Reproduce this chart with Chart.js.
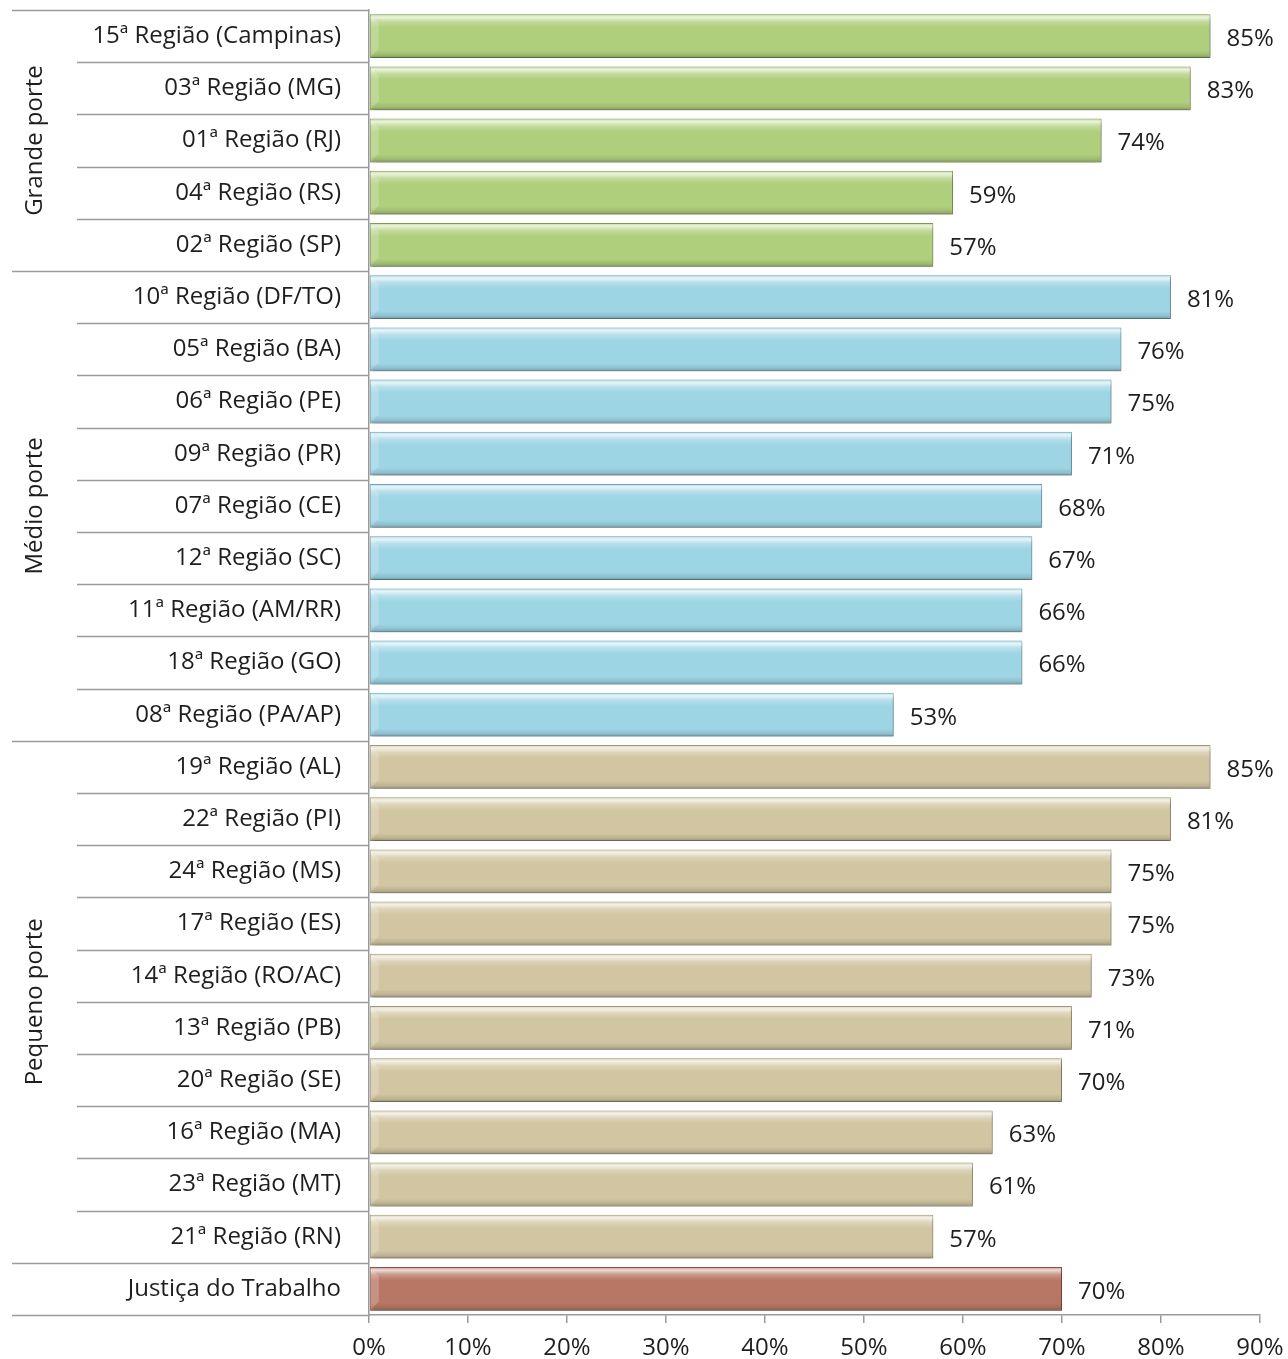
<!DOCTYPE html>
<html>
<head>
<meta charset="utf-8">
<script src="https://cdn.jsdelivr.net/npm/chart.js@4"></script>
<style>
  html, body { margin: 0; padding: 0; background: #fff; }
  #wrap { width: 1288px; height: 1359px; }
</style>
</head>
<body>
<div id="wrap"><canvas id="myChart" width="1288" height="1359"></canvas></div>
<script>
const regions = [
  '15ª Região (Campinas)', '03ª Região (MG)', '01ª Região (RJ)', '04ª Região (RS)', '02ª Região (SP)',
  '10ª Região (DF/TO)', '05ª Região (BA)', '06ª Região (PE)', '09ª Região (PR)', '07ª Região (CE)',
  '12ª Região (SC)', '11ª Região (AM/RR)', '18ª Região (GO)', '08ª Região (PA/AP)',
  '19ª Região (AL)', '22ª Região (PI)', '24ª Região (MS)', '17ª Região (ES)', '14ª Região (RO/AC)',
  '13ª Região (PB)', '20ª Região (SE)', '16ª Região (MA)', '23ª Região (MT)', '21ª Região (RN)',
  'Justiça do Trabalho'
];
const values = [85, 83, 74, 59, 57, 81, 76, 75, 71, 68, 67, 66, 66, 53, 85, 81, 75, 75, 73, 71, 70, 63, 61, 57, 70];
const groupNames = ['Grande porte', 'Médio porte', 'Pequeno porte', ''];
const groupSizes = [5, 9, 10, 1];
const xTicks = [0, 10, 20, 30, 40, 50, 60, 70, 80, 90];

const groupFill = ['#b0cf7c', '#9ed5e5', '#d2c6a2', '#b87764'];
const groupEdge = ['#7f9a52', '#6aa3b3', '#a39874', '#8a5444'];

const groupOf = [];
groupSizes.forEach((n, g) => { for (let i = 0; i < n; i++) groupOf.push(g); });

const FONT = '"Open Sans", sans-serif';
const FSIZE = 24;
const LINE = '#9a9a9a';

const barStyle = {
  id: 'barStyle',
  beforeDatasetDraw(chart) {
    const ctx = chart.ctx;
    ctx.save();
    ctx.shadowColor = 'rgba(0,0,0,0.35)';
    ctx.shadowOffsetY = 3;
    ctx.shadowOffsetX = 1;
    ctx.shadowBlur = 4;
  },
  afterDatasetDraw(chart) {
    const ctx = chart.ctx;
    ctx.restore();
    const meta = chart.getDatasetMeta(0);
    meta.data.forEach((bar) => {
      const { x, y, base, height } = bar.getProps(['x', 'y', 'base', 'height'], true);
      const top = y - height / 2;
      const g = ctx.createLinearGradient(0, top, 0, top + height);
      g.addColorStop(0, 'rgba(255,255,255,0.2)');
      g.addColorStop(0.07, 'rgba(255,255,255,0.75)');
      g.addColorStop(0.17, 'rgba(255,255,255,0.25)');
      g.addColorStop(0.3, 'rgba(255,255,255,0)');
      g.addColorStop(0.82, 'rgba(0,0,0,0)');
      g.addColorStop(0.93, 'rgba(0,0,0,0.1)');
      g.addColorStop(1, 'rgba(0,0,0,0.28)');
      ctx.save();
      ctx.fillStyle = g;
      ctx.fillRect(base + 1, top + 1, x - base - 2, height - 2);
      // left end bevel
      const b = 8;
      ctx.fillStyle = 'rgba(255,255,255,0.2)';
      ctx.beginPath();
      ctx.moveTo(base + 1, top + 1);
      ctx.lineTo(base + 1 + b, top + 1 + b);
      ctx.lineTo(base + 1 + b, top + height - 1 - b);
      ctx.lineTo(base + 1, top + height - 1);
      ctx.closePath();
      ctx.fill();
      ctx.restore();
    });
  },
  afterDatasetsDraw(chart) {
    const ctx = chart.ctx;
    const meta = chart.getDatasetMeta(0);
    ctx.save();
    ctx.font = FSIZE + 'px ' + FONT;
    ctx.fillStyle = '#1e1e1e';
    ctx.textAlign = 'left';
    ctx.textBaseline = 'middle';
    meta.data.forEach((bar, i) => {
      ctx.fillText(Math.round(values[i]) + '%', bar.x + 16, bar.y + 3);
    });
    ctx.restore();
  }
};

const groupLines = {
  id: 'groupLines',
  afterDraw(chart) {
    const ctx = chart.ctx;
    const yScale = chart.scales.y;
    const left = chart.chartArea.left;
    const n = regions.length;
    const step = yScale.getPixelForValue(1) - yScale.getPixelForValue(0);
    ctx.save();
    ctx.strokeStyle = LINE;
    ctx.lineWidth = 1.5;
    for (let i = 0; i <= n; i++) {
      const yy = Math.round(yScale.getPixelForValue(i) - step / 2) + 0.5;
      const isGroupEdge = i === 0 || i === n || groupOf[i] !== groupOf[i - 1];
      const x0 = isGroupEdge ? 12 : 77;
      ctx.beginPath();
      ctx.moveTo(x0, yy);
      ctx.lineTo(left, yy);
      ctx.stroke();
    }
    // rotated group names
    ctx.font = FSIZE + 'px ' + FONT;
    ctx.fillStyle = '#1e1e1e';
    ctx.textAlign = 'center';
    ctx.textBaseline = 'middle';
    let start = 0;
    groupSizes.forEach((size, g) => {
      const first = yScale.getPixelForValue(start);
      const last = yScale.getPixelForValue(start + size - 1);
      const cy = (first + last) / 2;
      if (groupNames[g]) {
        ctx.save();
        ctx.translate(35, cy);
        ctx.rotate(-Math.PI / 2);
        ctx.fillText(groupNames[g], 0, 0);
        ctx.restore();
      }
      start += size;
    });
    ctx.restore();
  }
};

new Chart(
  document.getElementById('myChart'),
  {
    type: 'bar',
    data: {
      labels: regions,
      datasets: [{
        data: values,
        backgroundColor: groupOf.map(g => groupFill[g]),
        borderColor: groupOf.map(g => groupEdge[g]),
        borderWidth: 1,
        borderSkipped: false,
        barPercentage: 0.84,
        categoryPercentage: 1
      }]
    },
    options: {
      indexAxis: 'y',
      responsive: false,
      animation: false,
      layout: {
        padding: { top: 10, right: 28, left: 0, bottom: 0 }
      },
      plugins: {
        legend: { display: false },
        tooltip: { enabled: false }
      },
      scales: {
        x: {
          min: 0,
          max: 90,
          afterBuildTicks: (scale) => { scale.ticks = xTicks.map(v => ({ value: v })); },
          afterFit: (scale) => {
            scale.height = 44;
            scale.paddingLeft = 0;
            scale.paddingRight = 0;
          },
          border: { color: LINE, width: 1.5 },
          grid: { drawOnChartArea: false, tickLength: 8, color: LINE, lineWidth: 1.5 },
          ticks: {
            callback: function(value) {
              return value + '%';
            },
            color: '#1e1e1e',
            font: { family: FONT, size: FSIZE },
            padding: 11,
            maxRotation: 0
          }
        },
        y: {
          afterFit: (scale) => {
            scale.width = 369;
            scale.paddingTop = 0;
            scale.paddingBottom = 0;
          },
          border: { color: LINE, width: 1.5 },
          grid: { display: false, drawTicks: false },
          ticks: {
            color: '#1e1e1e',
            font: { family: FONT, size: FSIZE },
            padding: 28
          }
        }
      }
    },
    plugins: [barStyle, groupLines]
  }
);
</script>
</body>
</html>
